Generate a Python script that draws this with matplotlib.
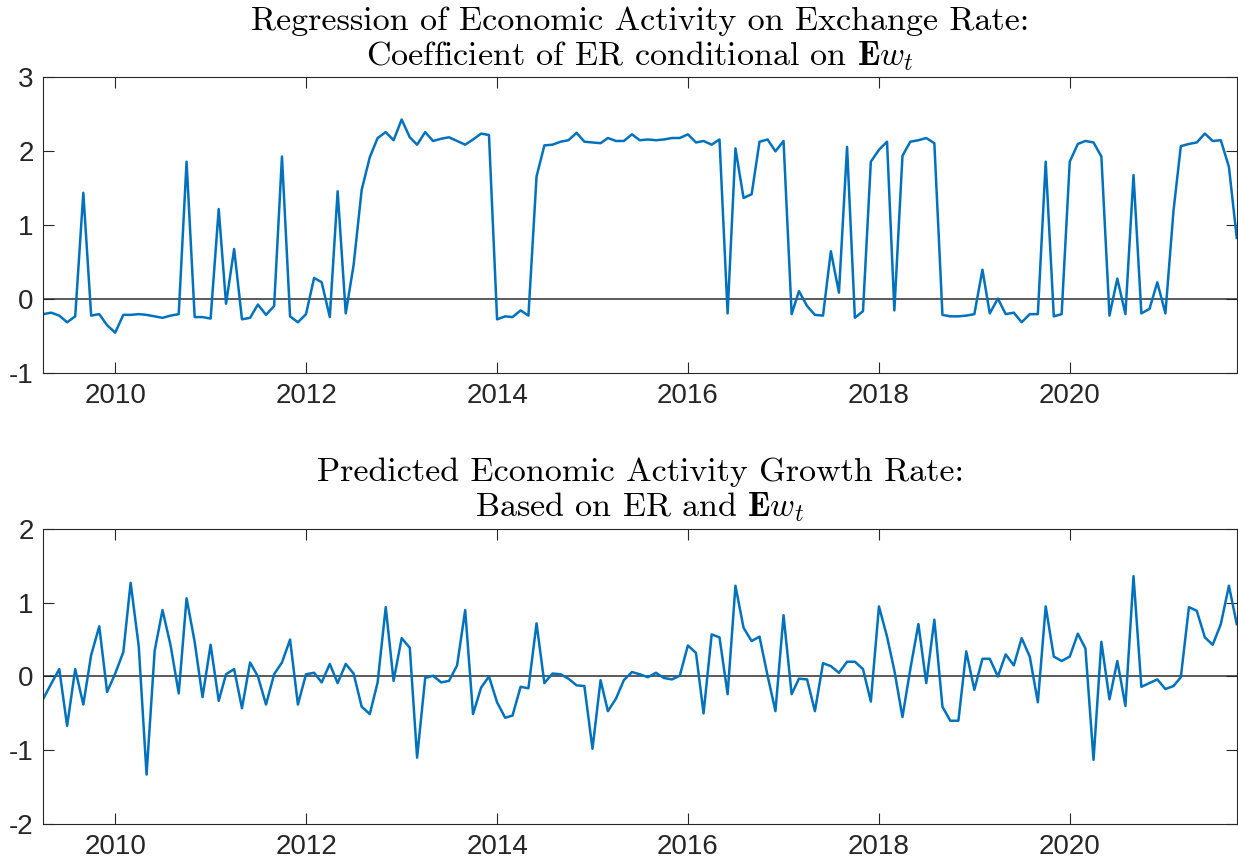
import matplotlib
matplotlib.use("Agg")
import matplotlib.pyplot as plt
import matplotlib.dates as mdates
import pandas as pd

# monthly sample, Apr 2009 .. Oct 2021
dates = pd.date_range("2009-04-01", periods=151, freq="MS")

# top panel: coefficient of ER conditional on E w_t
coef = [
    -0.20, -0.18, -0.22, -0.31, -0.23, 1.44, -0.22, -0.20, -0.35, -0.45,
    -0.21, -0.21, -0.20, -0.21, -0.23, -0.25, -0.22, -0.20, 1.86, -0.24,
    -0.24, -0.26, 1.22, -0.06, 0.68, -0.27, -0.25, -0.07, -0.21, -0.09,
    1.93, -0.23, -0.31, -0.20, 0.29, 0.23, -0.24, 1.46, -0.19, 0.46,
    1.48, 1.92, 2.18, 2.26, 2.15, 2.43, 2.19, 2.09, 2.26, 2.14,
    2.17, 2.19, 2.14, 2.09, 2.16, 2.24, 2.22, -0.27, -0.23, -0.24,
    -0.15, -0.22, 1.66, 2.08, 2.09, 2.13, 2.15, 2.25, 2.13, 2.12,
    2.11, 2.18, 2.14, 2.14, 2.23, 2.15, 2.16, 2.15, 2.16, 2.18,
    2.18, 2.23, 2.12, 2.14, 2.09, 2.16, -0.19, 2.04, 1.37, 1.42,
    2.13, 2.16, 2.00, 2.14, -0.20, 0.11, -0.09, -0.21, -0.22, 0.65,
    0.09, 2.06, -0.25, -0.16, 1.86, 2.02, 2.13, -0.15, 1.94, 2.13,
    2.15, 2.18, 2.11, -0.21, -0.23, -0.23, -0.22, -0.20, 0.40, -0.19,
    0.01, -0.20, -0.18, -0.31, -0.20, -0.20, 1.86, -0.23, -0.20, 1.86,
    2.10, 2.14, 2.12, 1.93, -0.22, 0.28, -0.20, 1.68, -0.19, -0.13,
    0.23, -0.19, 1.20, 2.07, 2.10, 2.12, 2.24, 2.14, 2.15, 1.79,
    0.83,
]

# bottom panel: predicted economic activity growth rate
pred = [
    -0.30, -0.10, 0.10, -0.67, 0.10, -0.38, 0.29, 0.68, -0.21, 0.04,
    0.33, 1.27, 0.41, -1.33, 0.35, 0.90, 0.42, -0.23, 1.06, 0.47,
    -0.28, 0.43, -0.33, 0.03, 0.10, -0.43, 0.19, 0.00, -0.38, 0.03,
    0.19, 0.50, -0.38, 0.03, 0.05, -0.08, 0.17, -0.09, 0.17, 0.04,
    -0.41, -0.51, -0.08, 0.94, -0.06, 0.52, 0.39, -1.10, -0.02, 0.01,
    -0.08, -0.06, 0.15, 0.90, -0.51, -0.15, 0.00, -0.35, -0.56, -0.53,
    -0.14, -0.16, 0.72, -0.09, 0.04, 0.03, -0.03, -0.12, -0.13, -0.98,
    -0.05, -0.47, -0.30, -0.05, 0.06, 0.03, -0.01, 0.05, -0.02, -0.04,
    0.01, 0.42, 0.32, -0.50, 0.57, 0.53, -0.24, 1.23, 0.66, 0.48,
    0.54, 0.01, -0.47, 0.83, -0.24, -0.03, -0.04, -0.47, 0.18, 0.14,
    0.05, 0.20, 0.20, 0.10, -0.34, 0.95, 0.54, 0.08, -0.55, 0.10,
    0.71, -0.09, 0.77, -0.41, -0.60, -0.60, 0.34, -0.18, 0.24, 0.24,
    0.00, 0.30, 0.15, 0.52, 0.27, -0.35, 0.95, 0.27, 0.21, 0.27,
    0.58, 0.38, -1.13, 0.47, -0.31, 0.21, -0.40, 1.36, -0.14, -0.09,
    -0.04, -0.17, -0.13, -0.01, 0.94, 0.89, 0.53, 0.43, 0.71, 1.23,
    0.71,
]

titles = [
    "Regression of Economic Activity on Exchange Rate:\n"
    r"Coefficient of ER conditional on $\mathbf{E}w_t$",
    "Predicted Economic Activity Growth Rate:\n"
    r"Based on ER and $\mathbf{E}w_t$",
]
ylims = [(-1, 3), (-2, 2)]

plt.rcParams["mathtext.fontset"] = "cm"
plt.rcParams["font.family"] = ["Liberation Sans", "DejaVu Sans"]
plt.rcParams["axes.unicode_minus"] = False

LINE = "#0072BD"
AXC = "#262626"

fig = plt.figure(figsize=(12.38, 8.67), dpi=100)
rects = [
    [0.035, 0.5694, 0.964, 0.3414],
    [0.035, 0.0496, 0.964, 0.3403],
]

for rect, series, title, ylim in zip(rects, [coef, pred], titles, ylims):
    ax = fig.add_axes(rect)
    ax.plot(dates, series, color=LINE, linewidth=1.8)
    ax.axhline(0, color="#4d4d4d", linewidth=1.3, zorder=1)
    ax.set_xlim(dates[0], dates[-1])
    ax.set_ylim(*ylim)
    ax.set_yticks(range(ylim[0], ylim[1] + 1))
    ax.xaxis.set_major_locator(mdates.YearLocator(2))
    ax.xaxis.set_major_formatter(mdates.DateFormatter("%Y"))
    ax.tick_params(direction="in", length=8, width=0.8, colors=AXC,
                   labelsize=20, top=True, right=True, pad=7)
    for s in ax.spines.values():
        s.set_color(AXC)
        s.set_linewidth(0.8)
    ax.set_title(title, fontsize=24.5, fontfamily="cmr10", color="black",
                 pad=9, linespacing=1.12)

fig.savefig("out.png", dpi=100)
